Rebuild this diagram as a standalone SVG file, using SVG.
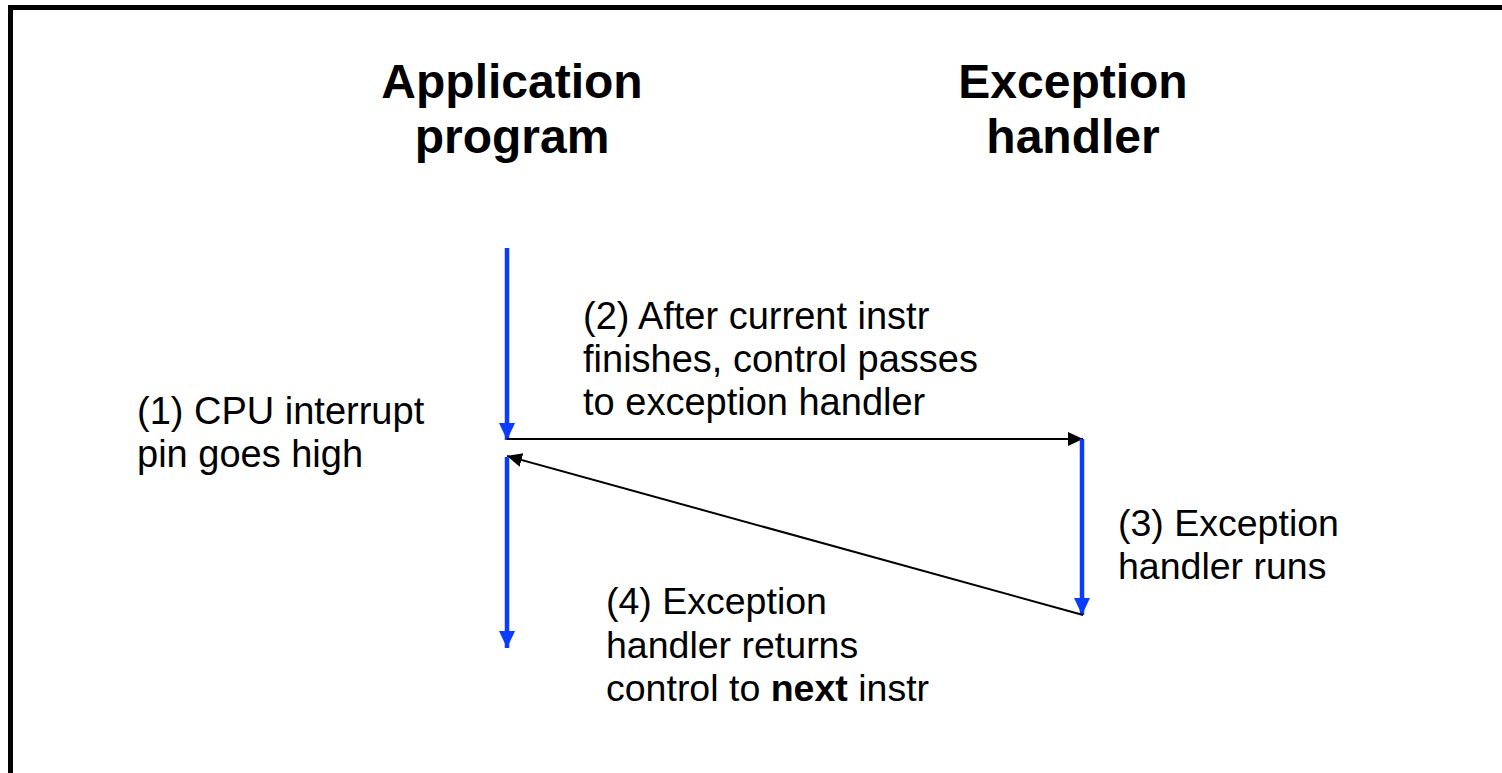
<svg xmlns="http://www.w3.org/2000/svg" width="1502" height="773" viewBox="0 0 1502 773">
<style>
.t{font-family:"Liberation Sans",Arial,sans-serif;font-size:37.5px;fill:#000}
.t2{font-size:38px}
.h{font-family:"Liberation Sans",Arial,sans-serif;font-size:48px;font-weight:bold;fill:#000;text-anchor:middle}
.b{stroke:#0a3cff;stroke-width:4.5;fill:none}
.k{stroke:#000;stroke-width:2;fill:none}
</style>
<defs>
<marker id="ab" markerUnits="userSpaceOnUse" markerWidth="18" markerHeight="18" viewBox="0 0 18 16" refX="17" refY="8" orient="auto"><path d="M0,0 L17,8 L0,16 Z" fill="#0a3cff"/></marker>
<marker id="ak" markerUnits="userSpaceOnUse" markerWidth="16" markerHeight="16" viewBox="0 0 16 14" refX="15" refY="7" orient="auto"><path d="M0,0 L15,7 L0,14 Z" fill="#000"/></marker>
</defs>
<rect x="10.5" y="7.5" width="1600" height="900" fill="#fff" stroke="#000" stroke-width="5"/>
<g id="title-app"><text class="h" x="512" y="98">Application</text><text class="h" x="512" y="153">program</text></g>
<g id="title-exc"><text class="h" x="1073" y="98">Exception</text><text class="h" x="1073" y="153">handler</text></g>
<g id="connectors">
<line class="b" x1="507" y1="248" x2="507" y2="440" marker-end="url(#ab)"/>
<line class="k" x1="507" y1="439" x2="1083" y2="439" marker-end="url(#ak)"/>
<line class="b" x1="1082" y1="439" x2="1082" y2="615" marker-end="url(#ab)"/>
<line class="k" x1="1083" y1="615" x2="507" y2="456" marker-end="url(#ak)"/>
<line class="b" x1="507" y1="457" x2="507" y2="648" marker-end="url(#ab)"/>
</g>
<g id="label1"><text class="t t2" x="137" y="424">(1) CPU interrupt</text><text class="t t2" x="137" y="467">pin goes high</text></g>
<g id="label2"><text class="t t2" x="583" y="329">(2) After current instr</text><text class="t t2" x="583" y="372">finishes, control passes</text><text class="t t2" x="583" y="415">to exception handler</text></g>
<g id="label3"><text class="t" x="1118" y="536">(3) Exception</text><text class="t" x="1118" y="579">handler runs</text></g>
<g id="label4"><text class="t" x="606" y="614">(4) Exception</text><text class="t" x="606" y="658">handler returns</text><text class="t" x="606" y="701">control to <tspan font-weight="bold">next</tspan> instr</text></g>
</svg>
